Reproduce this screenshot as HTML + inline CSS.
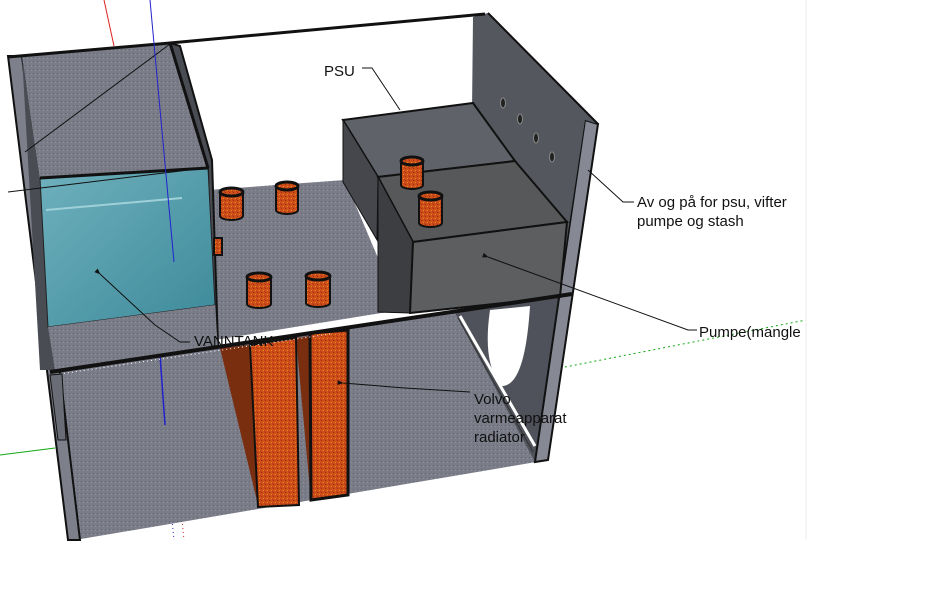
<!DOCTYPE html>
<html><head><meta charset="utf-8"><style>
html,body{margin:0;padding:0;background:#fff;width:939px;height:590px;overflow:hidden}
svg{display:block}
text{font-family:"Liberation Sans",sans-serif;font-size:15px;fill:#111}
</style></head><body>
<svg width="939" height="590" viewBox="0 0 939 590" xmlns="http://www.w3.org/2000/svg">
<defs>
<pattern id="tex" width="4" height="4" patternUnits="userSpaceOnUse"><rect width="4" height="4" fill="#7a7c88"/><rect x="1" y="1" width="1" height="1" fill="#646672"/><rect x="3" y="2" width="1" height="1" fill="#8e909b"/></pattern>
<pattern id="orng" width="4" height="4" patternUnits="userSpaceOnUse"><rect width="4" height="4" fill="#cf4f1a"/><rect x="1" y="0" width="1" height="1" fill="#a02a10"/><rect x="3" y="2" width="1" height="1" fill="#e0901c"/><rect x="0" y="3" width="1" height="1" fill="#b83a1a"/></pattern>
<linearGradient id="water" x1="0" y1="0" x2="1" y2="1"><stop offset="0" stop-color="#6fb0bd"/><stop offset="1" stop-color="#3d8a9a"/></linearGradient>
<marker id="ah" viewBox="0 0 10 10" refX="1" refY="5" markerWidth="6" markerHeight="6" orient="auto-start-reverse"><path d="M0,5 L10,1 L10,9 Z" fill="#111"/></marker>
</defs>
<line x1="806" y1="0" x2="806" y2="540" stroke="#eeeeee"/>
<line x1="104" y1="0" x2="114" y2="46" stroke="#d22" stroke-width="1"/>
<line x1="0" y1="455" x2="55" y2="448" stroke="#1a1" stroke-width="1"/>
<line x1="560" y1="368" x2="806" y2="320" stroke="#1a1" stroke-dasharray="2,3"/>
<line x1="172" y1="520" x2="174" y2="540" stroke="#22c" stroke-dasharray="1,3"/>
<line x1="182" y1="520" x2="184" y2="540" stroke="#d22" stroke-dasharray="1,3"/>

<polygon points="55,370 570,293 548,460 75,540" fill="url(#tex)"/>
<polygon points="455,313 560,298 535,462" fill="#50525b"/>
<path d="M490,310 Q482,365 502,386 Q525,386 530,306 Z" fill="#fff"/>
<line x1="460" y1="316" x2="535" y2="446" stroke="#fff" stroke-width="3"/>
<line x1="458" y1="318" x2="533" y2="452" stroke="#333" stroke-width="1"/>
<polygon points="585,120 598,124 548,460 535,462" fill="#868894" stroke="#111" stroke-width="2"/>
<polygon points="473,17 488,13 598,124 585,120 558,298 470,300" fill="#55575f"/>
<line x1="488" y1="13" x2="598" y2="124" stroke="#111" stroke-width="2"/>
<ellipse cx="503" cy="103" rx="2.5" ry="5" fill="#222" stroke="#888"/>
<ellipse cx="520" cy="119" rx="2.5" ry="5" fill="#222" stroke="#888"/>
<ellipse cx="536" cy="138" rx="2.5" ry="5" fill="#222" stroke="#888"/>
<ellipse cx="552" cy="157" rx="2.5" ry="5" fill="#222" stroke="#888"/>

<polygon points="208,190 345,180 400,310 215,340" fill="url(#tex)"/>
<polygon points="343,120 473,103 515,161 378,177" fill="#606269" stroke="#111" stroke-width="2"/>
<polygon points="343,120 378,177 377,240 343,182" fill="#45474d" stroke="#111" stroke-width="1"/>
<polygon points="378,177 515,161 567,222 413,242" fill="#56585a" stroke="#111" stroke-width="2"/>
<polygon points="378,177 413,242 410,313 378,312" fill="#3c3e42" stroke="#111" stroke-width="1"/>
<polygon points="413,242 567,222 560,297 410,313" fill="#5c5e60" stroke="#111" stroke-width="2"/>

<polygon points="8,56 22,56 80,540 68,540" fill="#7d7f8a" stroke="#111" stroke-width="2"/>
<polygon points="22,56 170,43 208,168 40,178" fill="url(#tex)"/>
<polygon points="22,56 40,178 50,330 55,370 40,370" fill="#4a4c54"/>
<polygon points="170,43 180,46 212,160 218,345 212,345 208,168" fill="#4a4c54" stroke="#111" stroke-width="2"/>
<polygon points="40,178 208,168 215,305 48,327" fill="url(#water)" stroke="#222" stroke-width="1"/>
<line x1="40" y1="178" x2="208" y2="168" stroke="#111" stroke-width="3"/>
<line x1="46" y1="210" x2="182" y2="198" stroke="#9fd0d8" stroke-width="2"/>
<polygon points="48,327 215,305 218,350 55,370" fill="url(#tex)"/>
<line x1="25" y1="152" x2="170" y2="44" stroke="#111" stroke-width="1"/>
<line x1="8" y1="192" x2="205" y2="168" stroke="#111" stroke-width="1"/>

<polyline points="8,57 170,43 485,14" fill="none" stroke="#111" stroke-width="3"/>
<line x1="170" y1="43" x2="208" y2="168" stroke="#111" stroke-width="3"/>
<line x1="150" y1="0" x2="174" y2="262" stroke="#22c" stroke-width="1"/>
<line x1="160" y1="355" x2="165" y2="425" stroke="#22c" stroke-width="1.5"/>

<polygon points="220,348 250,345 258,505" fill="#7a2e10"/>
<polygon points="296,338 310,336 310,490" fill="#7a2e10"/>
<polygon points="250,345 296,338 299,505 258,507" fill="url(#orng)" stroke="#111" stroke-width="2"/>
<polygon points="310,333 348,330 348,495 311,500" fill="url(#orng)" stroke="#111" stroke-width="3"/>

<line x1="50" y1="372" x2="572" y2="294" stroke="#111" stroke-width="4"/>
<line x1="60" y1="374" x2="330" y2="334" stroke="#fff" stroke-width="1" stroke-dasharray="1,3"/>
<polygon points="50,375 62,374 66,440 58,440" fill="#6a6c76" stroke="#111" stroke-width="1"/>

<g stroke="#111" stroke-width="2" fill="url(#orng)">
<path d="M220,192 v24 a11.5,4 0 0 0 23,0 v-24"/><ellipse cx="231.5" cy="192" rx="11.5" ry="4" stroke-width="3"/>
<path d="M276,186 v24 a11,4 0 0 0 22,0 v-24"/><ellipse cx="287" cy="186" rx="11" ry="4" stroke-width="3"/>
<path d="M401,161 v24 a11,4 0 0 0 22,0 v-24"/><ellipse cx="412" cy="161" rx="11" ry="4" stroke-width="3"/>
<path d="M419,196 v27 a11.5,4 0 0 0 23,0 v-27"/><ellipse cx="430.5" cy="196" rx="11.5" ry="4" stroke-width="3"/>
<path d="M247,277 v27 a12,4 0 0 0 24,0 v-27"/><ellipse cx="259" cy="277" rx="12" ry="4" stroke-width="3"/>
<path d="M306,276 v27 a12,4 0 0 0 24,0 v-27"/><ellipse cx="318" cy="276" rx="12" ry="4" stroke-width="3"/>
<rect x="214" y="238" width="8" height="17"/>
</g>

<g stroke="#111" stroke-width="1" fill="none">
<polyline points="362,68 372,68 400,110"/>
<polyline points="588,170 623,202 634,202"/>
<polyline points="488,257 688,330 697,330" marker-start="url(#ah)"/>
<polyline points="100,274 155,325 180,342 190,342" marker-start="url(#ah)"/>
<polyline points="343,383 405,388 470,392" marker-start="url(#ah)"/>
</g>
<text x="324" y="76">PSU</text>
<text x="637" y="207">Av og på for psu, vifter</text>
<text x="637" y="226">pumpe og stash</text>
<text x="699" y="337">Pumpe(mangle</text>
<text x="194" y="346">VANNTANK</text>
<text x="474" y="404">Volvo</text>
<text x="474" y="423">varmeapparat</text>
<text x="474" y="442">radiator</text>
<rect x="806" y="0" width="133" height="590" fill="#fff"/>
<line x1="806" y1="0" x2="806" y2="540" stroke="#eeeeee"/>
</svg>
</body></html>
